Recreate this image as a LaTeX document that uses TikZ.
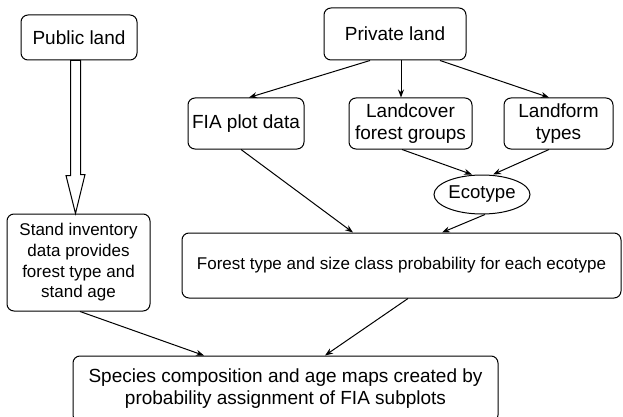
\documentclass[tikz,border=0pt]{standalone}
\usepackage{fontspec}
\setmainfont{Liberation Sans}
\usetikzlibrary{arrows.meta,shapes.geometric}
\begin{document}
\begin{tikzpicture}[x=1pt,y=-1pt,
  box/.style={draw=black,line width=1pt,rounded corners=7pt,align=center,inner sep=0pt,
    font=\fontsize{19}{22}\selectfont},
  smalltext/.style={font=\fontsize{17}{20.7}\selectfont},
  oval/.style={draw=black,line width=1pt,ellipse,inner sep=0pt,font=\fontsize{18.6}{22}\selectfont},
  conn/.style={line width=1pt,-{Stealth[length=8pt,width=6pt]}},
  hollow/.style={draw=black,line width=1pt,fill=white}]
\useasboundingbox (0,0) rectangle (623,417);
\node[box,minimum width=116pt,minimum height=45pt] (pub) at (79,37.5) {Public land};
\node[box,minimum width=142pt,minimum height=52pt] (priv) at (395,34) {Private land};
\node[box,minimum width=116pt,minimum height=51pt] (fia) at (246,123.5) {FIA plot data};
\node[box,minimum width=123pt,minimum height=51pt] (lc) at (410.5,123.5) {Landcover\\forest groups};
\node[box,minimum width=109pt,minimum height=51pt] (lf) at (558.5,123.5) {Landform\\types};
\node[oval,minimum width=96pt,minimum height=39pt] (eco) at (482,194.5) {Ecotype};
\node[box,smalltext,minimum width=143pt,minimum height=97pt] (stand) at (78.5,262.5) {Stand inventory\\data provides\\forest type and\\stand age};
\node[box,smalltext,minimum width=439pt,minimum height=65pt] (forest) at (401.5,265.5) {Forest type and size class probability for each ecotype};
\node[box,minimum width=425pt,minimum height=66pt] (spec) at (285.5,389) {Species composition and age maps created by\\probability assignment of FIA subplots};
% hollow arrow
\coordinate (ha) at ([xshift=-3.5pt]pub.south);
\draw[hollow] ([xshift=-5pt]ha) -- ++(0,115) -- ++(-4.5,0) -- ([xshift=-3pt]stand.north)
  -- ++(9.5,-39) -- ++(-4.5,0) -- ([xshift=5pt]ha) -- cycle;
% connectors
\draw[conn] ([xshift=-25pt]priv.south) -- ([xshift=3pt]fia.north);
\draw[conn] ([xshift=6pt]priv.south) -- ([xshift=6pt]priv.south |- lc.north);
\draw[conn] ([xshift=45pt]priv.south) -- ([xshift=-9.5pt]lf.north);
\draw[conn] ([xshift=-8.5pt]lc.south) -- ([xshift=-10pt]eco.north);
\draw[conn] ([xshift=-9.5pt]lf.south) -- ([xshift=11pt]eco.north);
\draw[conn] ([xshift=-5pt]fia.south) -- ([xshift=-48.5pt]forest.north);
\draw[conn] ([xshift=3pt]eco.south) -- ([xshift=40.5pt]forest.north);
\draw[conn] ([xshift=1.5pt]stand.south) -- ([xshift=-81.5pt]spec.north);
\draw[conn] ([xshift=6.5pt]forest.south) -- ([xshift=39.5pt]spec.north);
\end{tikzpicture}
\end{document}
